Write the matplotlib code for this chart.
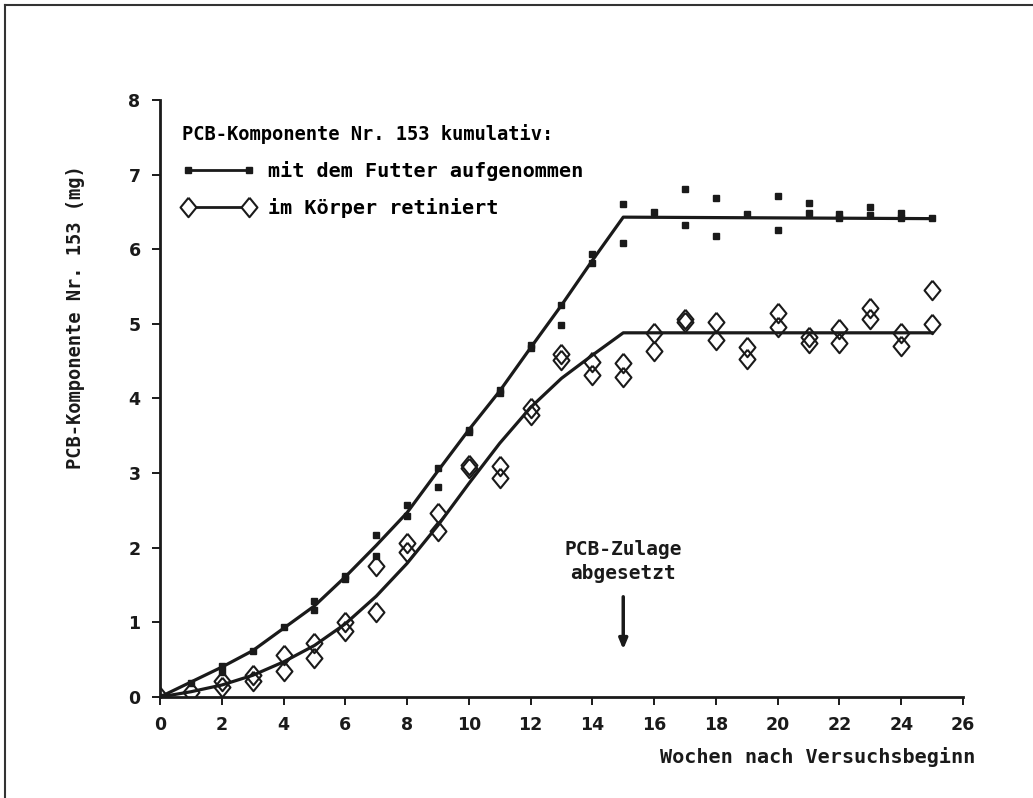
import numpy as np
import matplotlib.pyplot as plt
from matplotlib.lines import Line2D

# Messwerte (zwei Tiere je Woche, soweit vorhanden)
wochen_futter = [0, 1, 2, 2, 3, 4, 5, 5, 6, 6, 7, 7, 8, 8, 9, 9, 10, 10, 11, 11,
                 12, 12, 13, 13, 14, 14, 15, 15, 16, 17, 17, 18, 18, 19, 20, 20,
                 21, 21, 22, 22, 23, 23, 24, 24, 25]
futter = [0.0, 0.19, 0.41, 0.34, 0.62, 0.94, 1.28, 1.17, 1.62, 1.58, 2.17, 1.89,
          2.57, 2.42, 3.07, 2.82, 3.58, 3.55, 4.12, 4.08, 4.71, 4.68, 5.25, 4.99,
          5.93, 5.81, 6.60, 6.09, 6.50, 6.81, 6.33, 6.68, 6.18, 6.47, 6.72, 6.26,
          6.62, 6.48, 6.47, 6.42, 6.56, 6.46, 6.48, 6.42, 6.42]

wochen_koerper = [0, 1, 2, 2, 3, 3, 4, 4, 5, 5, 6, 6, 7, 7, 8, 8, 9, 9, 10, 10,
                  11, 11, 12, 12, 13, 13, 14, 14, 15, 15, 16, 16, 17, 17, 18, 18,
                  19, 19, 20, 20, 21, 21, 22, 22, 23, 23, 24, 24, 25, 25]
koerper = [0.0, 0.07, 0.22, 0.13, 0.30, 0.21, 0.56, 0.35, 0.72, 0.52, 1.01, 0.88,
           1.75, 1.14, 2.07, 1.94, 2.46, 2.22, 3.11, 3.07, 3.10, 2.93, 3.87, 3.78,
           4.60, 4.52, 4.49, 4.32, 4.47, 4.29, 4.88, 4.63, 5.06, 5.02, 5.03, 4.79,
           4.69, 4.53, 5.15, 4.96, 4.83, 4.74, 4.93, 4.74, 5.21, 5.06, 4.88, 4.70,
           5.46, 5.00]

# Ausgleichskurven
kurve_x = [0, 1, 2, 3, 4, 5, 6, 7, 8, 9, 10, 11, 12, 13, 14, 15, 25]
kurve_futter = [0, 0.20, 0.40, 0.62, 0.92, 1.22, 1.61, 2.03, 2.47, 3.03, 3.58,
                4.10, 4.68, 5.25, 5.85, 6.43, 6.41]
kurve_koerper = [0, 0.07, 0.16, 0.29, 0.47, 0.69, 0.98, 1.35, 1.79, 2.30, 2.86,
                 3.40, 3.88, 4.27, 4.58, 4.88, 4.88]

xticks = list(range(0, 27, 2))
yticks = list(range(0, 9))

mono = 'DejaVu Sans Mono'
ink = '#1a1a1a'
raute = [(0, 1), (0.82, 0), (0, -1), (-0.82, 0), (0, 1)]

fig = plt.figure(figsize=(10.33, 7.98), dpi=100)
ax = fig.add_axes([0.1549, 0.1266, 0.7773, 0.7481])

ax.plot(kurve_x, kurve_futter, color=ink, lw=2.3, zorder=2)
ax.plot(kurve_x, kurve_koerper, color=ink, lw=2.3, zorder=2)
ax.plot(wochen_futter, futter, ls='none', marker='s', ms=4.8, color=ink, zorder=3)
ax.plot(wochen_koerper, koerper, ls='none', marker=raute, ms=14, mfc='none',
        mec=ink, mew=1.5, zorder=3)

ax.set_xlim(0, 26)
ax.set_ylim(0, 8)
ax.set_xticks(xticks)
ax.set_yticks(yticks)
for s in ['top', 'right']:
    ax.spines[s].set_visible(False)
for s in ['left', 'bottom']:
    ax.spines[s].set_linewidth(2)
    ax.spines[s].set_color(ink)
ax.tick_params(direction='out', length=6, width=1.4, color=ink,
               labelsize=12.5, pad=8)
for lab in ax.get_xticklabels() + ax.get_yticklabels():
    lab.set_fontweight('bold')
    lab.set_color(ink)

ax.set_ylabel('PCB-Komponente Nr. 153 (mg)', family=mono, fontweight='bold',
              fontsize=13.5, color=ink)
ax.yaxis.set_label_coords(-0.094, 0.636)
ax.text(1.015, -0.083, 'Wochen nach Versuchsbeginn', transform=ax.transAxes,
        ha='right', va='top', family=mono, fontweight='bold', fontsize=14.5,
        color=ink)

# Legende
h1 = Line2D([], [], color=ink, lw=2, marker='s', ms=4.8)
h2 = Line2D([], [], color=ink, lw=2, marker=raute, ms=14, mfc='white',
            mec=ink, mew=1.5)
leg = ax.legend([h1, h2], ['mit dem Futter aufgenommen', 'im Körper retiniert'],
                title='PCB-Komponente Nr. 153 kumulativ:', numpoints=2,
                loc='upper left', bbox_to_anchor=(0.005, 0.99), frameon=False,
                handlelength=3.6, handletextpad=0.65, labelspacing=0.85,
                prop={'family': mono, 'weight': 'bold', 'size': 14.5})
leg.get_title().set_fontproperties({'family': mono, 'weight': 'bold', 'size': 13.5})
leg._legend_box.align = 'left'

# Hinweis Absetzen der Zulage
ax.annotate('', xy=(15, 0.6), xytext=(15, 1.38),
            arrowprops=dict(arrowstyle='-|>,head_width=0.25,head_length=0.6',
                            color=ink, lw=2.5))
ax.text(15, 1.53, 'PCB-Zulage\nabgesetzt', ha='center', va='bottom',
        family=mono, fontweight='bold', fontsize=14, linespacing=1.3,
        color=ink)

# Rahmen
fig.add_artist(Line2D([0.005, 1.0], [0.9937, 0.9937], transform=fig.transFigure,
                      color='#333333', lw=1.5))
fig.add_artist(Line2D([0.005, 0.005], [0.0, 0.9937], transform=fig.transFigure,
                      color='#333333', lw=1.5))

plt.savefig('out.png', dpi=100)
